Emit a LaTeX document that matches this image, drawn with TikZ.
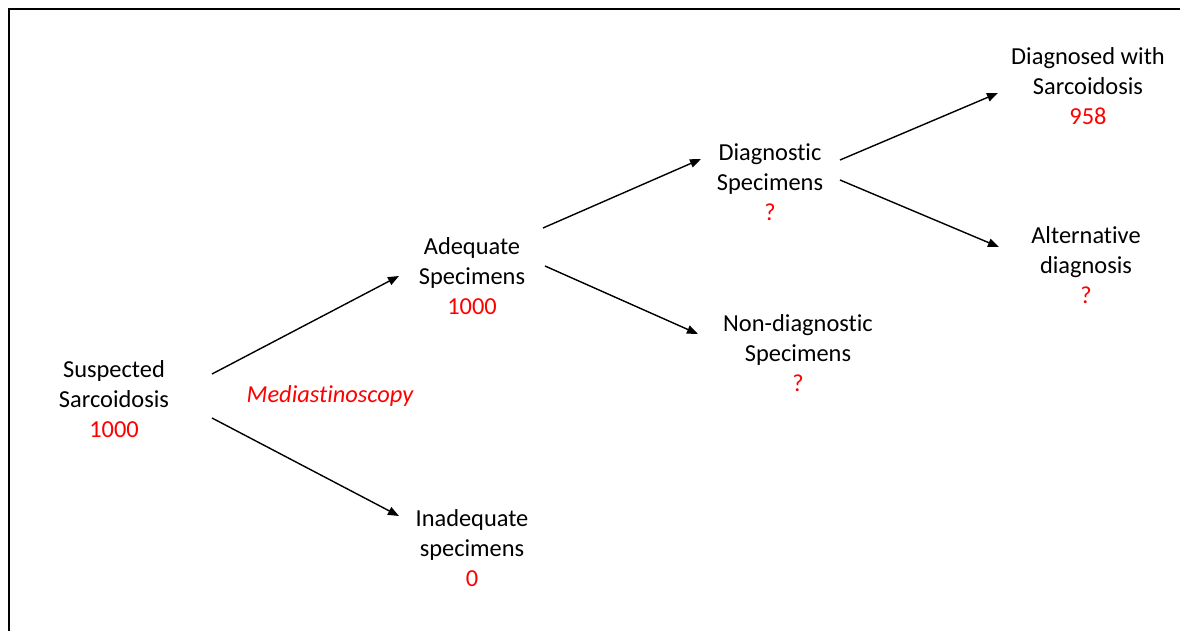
\documentclass[tikz,border=0pt]{standalone}
\usepackage{fontspec}
\setmainfont{Carlito}[Ligatures=NoCommon]
\usetikzlibrary{arrows.meta}
\definecolor{numred}{RGB}{255,0,0}
\tikzset{
  lbl/.style={align=center, inner sep=0pt, font=\fontsize{24.5}{30}\selectfont},
  link/.style={line width=1.4bp, -{Triangle[length=11bp,width=8.5bp]}},
}
\newcommand{\num}[1]{\textcolor{numred}{#1}}
\begin{document}
\begin{tikzpicture}[x=1bp,y=-1bp]
  \useasboundingbox (0,0) rectangle (1180,631);
  % frame (top and left edges)
  \draw[line width=2.6bp] (9,631) -- (9,9) -- (1180,9);

  % decision tree nodes
  \node[lbl] (susp) at (114,399) {Suspected\\Sarcoidosis\\\num{1000}};
  \node[lbl] (adeq) at (472,276) {Adequate\\Specimens\\\num{1000}};
  \node[lbl] (inad) at (472,548) {Inadequate\\specimens\\\num{0}};
  \node[lbl] (diag) at (770,182) {Diagnostic\\Specimens\\\num{?}};
  \node[lbl] (nond) at (798,353) {Non-diagnostic\\Specimens\\\num{?}};
  \node[lbl] (sarc) at (1088,86) {Diagnosed with\\Sarcoidosis\\\num{958}};
  \node[lbl] (alt)  at (1086,265) {Alternative\\diagnosis\\\num{?}};
  \node[lbl, text=numred, font=\fontsize{24.5}{30}\selectfont\itshape] (proc) at (330,396) {Mediastinoscopy};

  % connector end points
  \coordinate (a1) at (212,374); \coordinate (a2) at (399,276);
  \coordinate (b1) at (212,418); \coordinate (b2) at (399,516);
  \coordinate (c1) at (543,228); \coordinate (c2) at (701,159);
  \coordinate (d1) at (545,266); \coordinate (d2) at (698,334);
  \coordinate (e1) at (840,160); \coordinate (e2) at (998,93);
  \coordinate (f1) at (840,180); \coordinate (f2) at (999,247);

  \draw[link] (a1) -- (a2);
  \draw[link] (b1) -- (b2);
  \draw[link] (c1) -- (c2);
  \draw[link] (d1) -- (d2);
  \draw[link] (e1) -- (e2);
  \draw[link] (f1) -- (f2);
\end{tikzpicture}
\end{document}
